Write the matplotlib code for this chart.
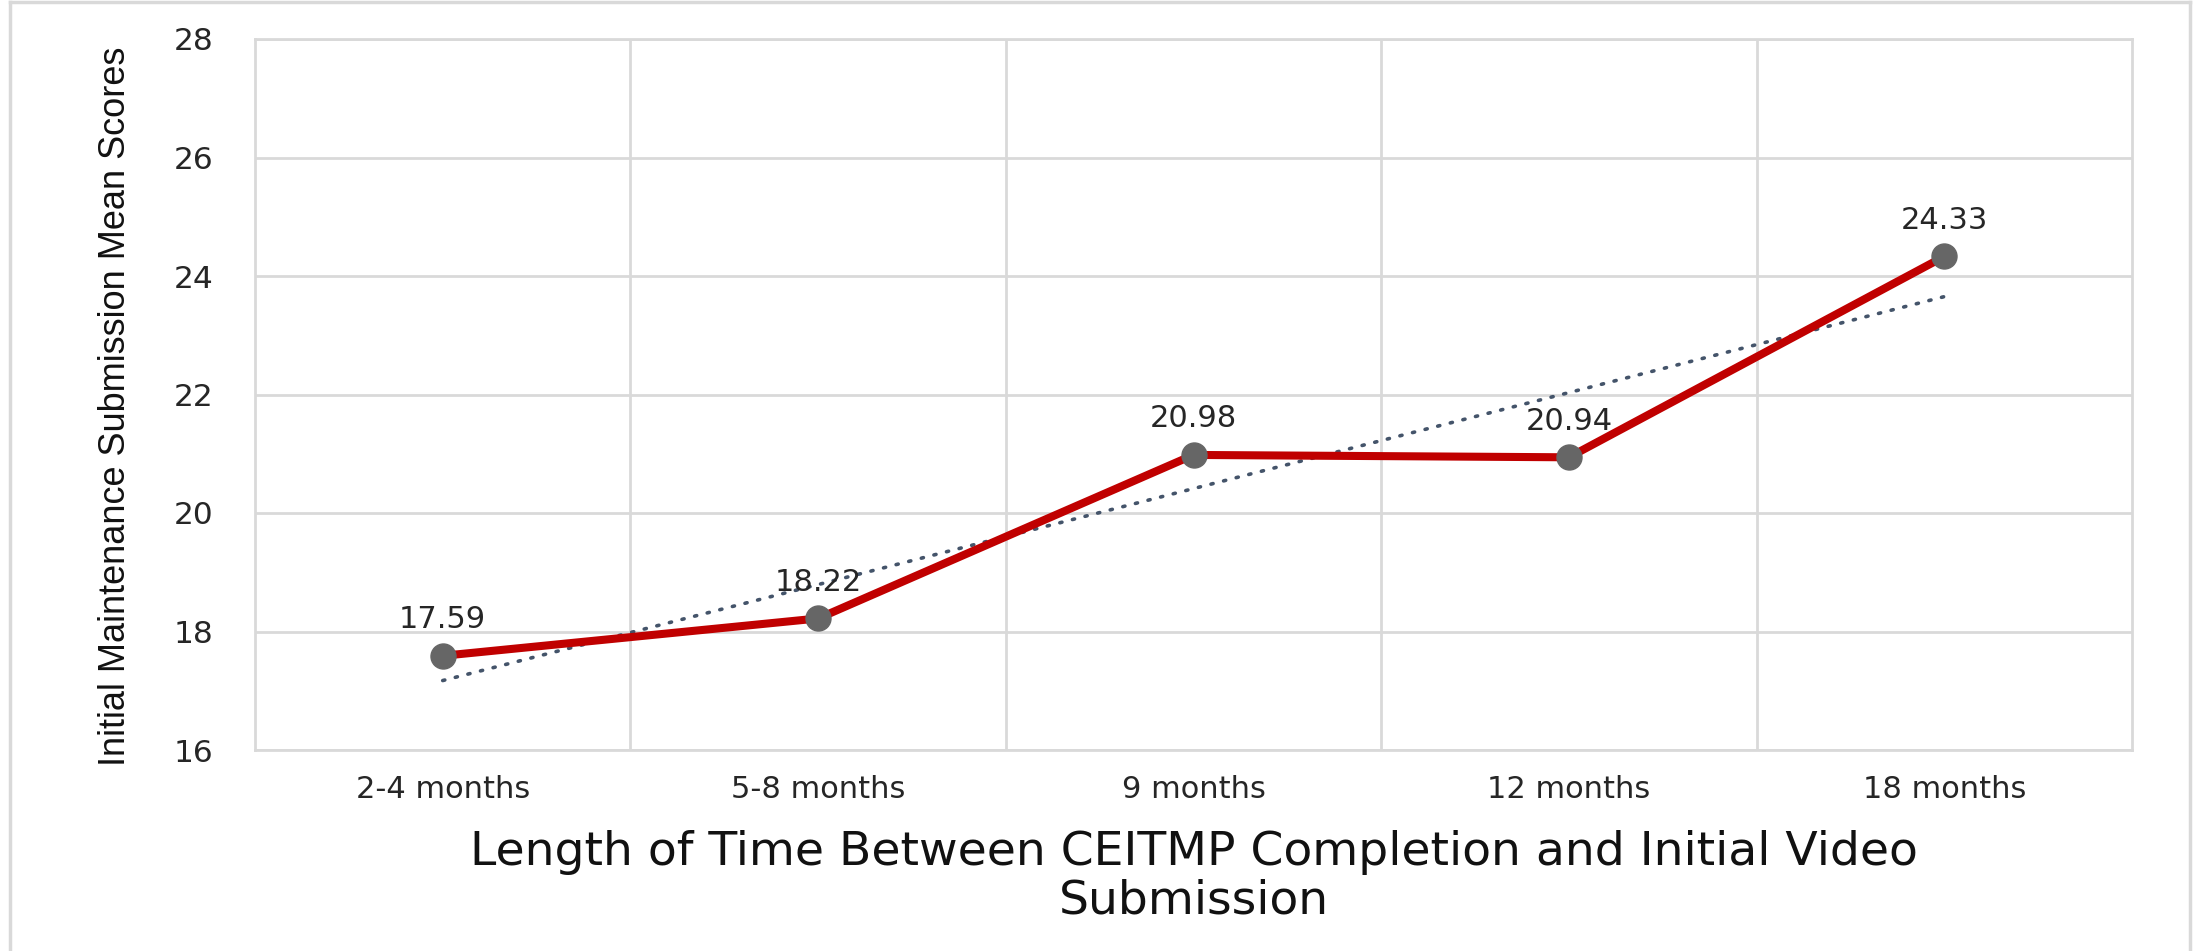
import numpy as np
import matplotlib
matplotlib.use("Agg")
import matplotlib.pyplot as plt
from matplotlib.lines import Line2D

# mean scores by time between course completion and first video submission
categories = ["2-4 months", "5-8 months", "9 months", "12 months", "18 months"]
mean_scores = [17.59, 18.22, 20.98, 20.94, 24.33]
y_ticks = [16, 18, 20, 22, 24, 26, 28]

GRID = "#d9d9d9"
RED = "#c00000"
MARKER = "#666666"
TREND = "#44546a"
TEXT = "#262626"

W, H = 2199, 951
fig = plt.figure(figsize=(W / 100, H / 100), dpi=100)
ax = fig.add_axes([255 / W, (H - 750) / H, 1877 / W, 711 / H])

x = np.arange(len(categories))
y = np.array(mean_scores)

# linear trendline through the series
slope, icpt = np.polyfit(x, y, 1)
ax.plot(x, icpt + slope * x, ls=(0, (0.6, 3.0)), lw=2.6, color=TREND,
        dash_capstyle="round", zorder=3)

ax.plot(x, y, color=RED, lw=5.8, zorder=4, solid_joinstyle="round")
ax.plot(x, y, "o", ms=18, color=MARKER, mec=MARKER, zorder=5)

for xi, yi in zip(x, y):
    ax.annotate(f"{yi:.2f}", (xi, yi), xytext=(0, 20), textcoords="offset points",
                ha="center", va="baseline", fontsize=22, color=TEXT,
                family="DejaVu Sans", zorder=6)

ax.set_xlim(-0.5, len(categories) - 0.5)
ax.set_ylim(16, 28)
ax.set_yticks(y_ticks)
ax.set_xticks(x)
ax.set_xticklabels(categories)
ax.set_xticks(np.arange(len(categories) - 1) + 0.5, minor=True)
ax.grid(axis="y", which="major", color=GRID, lw=2)
ax.grid(axis="x", which="minor", color=GRID, lw=2)
ax.set_axisbelow(True)
ax.tick_params(which="both", length=0)
ax.tick_params(axis="y", pad=30, labelsize=22.5, labelcolor=TEXT)
ax.tick_params(axis="x", pad=18, labelsize=22, labelcolor=TEXT)
for lab in ax.get_xticklabels() + ax.get_yticklabels():
    lab.set_family("DejaVu Sans")
for sp in ax.spines.values():
    sp.set_color(GRID)
    sp.set_linewidth(2)

ax.set_ylabel("Initial Maintenance Submission Mean Scores", fontsize=26,
              family="Liberation Sans", color="#111111")
ax.yaxis.set_label_coords((116 - 255) / 1877, (750 - 406) / 711)
ax.yaxis.label.set_va("center")

ax.set_xlabel("Length of Time Between CEITMP Completion and Initial Video\nSubmission",
              fontsize=34, family="DejaVu Sans", color="#111111", linespacing=1.1)
ax.xaxis.set_label_coords(0.5, (750 - 877) / 711)
ax.xaxis.label.set_va("center")

# chart-area border (left, top, right)
frame = [([10 / W, 10 / W], [0, 1 - 2 / H]),
         ([10 / W, 2190 / W], [1 - 2 / H, 1 - 2 / H]),
         ([2190 / W, 2190 / W], [1 - 2 / H, 0])]
for fx, fy in frame:
    fig.add_artist(Line2D(fx, fy, color=GRID, lw=2.5, transform=fig.transFigure))

fig.savefig("out.png", dpi=100)
